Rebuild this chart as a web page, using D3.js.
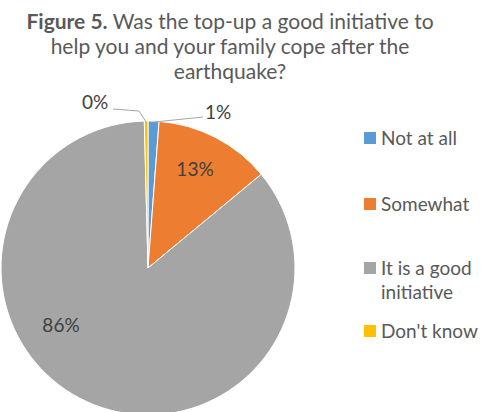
<!DOCTYPE html>
<html><head><meta charset="utf-8">
<script src="https://cdn.jsdelivr.net/npm/d3@7"></script>
<style>body{margin:0;background:#fff}svg{display:block}</style>
</head><body><svg id="c" width="486" height="412"></svg>
<script>
const categories = ["Not at all", "Somewhat", "It is a good initiative", "Don't know"];
const values = [1.2, 12.8, 85.6, 0.4];
const labels = ["1%", "13%", "86%", "0%"];
const colors = ["#5B9BD5", "#ED7D31", "#A5A5A5", "#FFC000"];

const svg = d3.select("#c");
const font = "Lato, 'Open Sans', sans-serif";
const cx = 148, cy = 268, R = 147;

// title
const t = svg.append("text").attr("text-anchor","middle").attr("font-family",font).attr("font-size",21).attr("fill","#595959");
const t1 = t.append("tspan").attr("x",230).attr("y",29);
t1.append("tspan").attr("font-weight","bold").text("Figure 5.");
t1.append("tspan").text(" Was the top-up a good initiative to");
t.append("tspan").attr("x",230).attr("y",54).text("help you and your family cope after the");
t.append("tspan").attr("x",230).attr("y",79).text("earthquake?");

const pie = d3.pie().sort(null).value(d=>d)(values);
const arc = d3.arc().innerRadius(0).outerRadius(R);
const g = svg.append("g").attr("transform",`translate(${cx},${cy})`);
g.selectAll("path").data(pie).join("path").attr("d",arc)
  .attr("fill",(d,i)=>colors[i]).attr("stroke","#fff").attr("stroke-width",1);

const lfs = 19;
[1,2].forEach(i=>{
  const [x,y] = i===1 ? [195-cx,171-cy] : [61-cx,327-cy];
  g.append("text").attr("x",x).attr("y",y).attr("text-anchor","middle").attr("dominant-baseline","middle")
   .attr("font-family",font).attr("font-size",lfs).attr("fill","#404040").text(labels[i]);
});
const outer = d3.arc().innerRadius(R).outerRadius(R);
const c0 = outer.centroid(pie[0]);
g.append("polyline").attr("points",[[c0[0],c0[1]+1],[203-cx,117-cy]].map(p=>p.join(",")).join(" "))
 .attr("fill","none").attr("stroke","#A6A6A6").attr("stroke-width",1);
g.append("text").attr("x",218-cx).attr("y",114-cy).attr("text-anchor","middle").attr("dominant-baseline","middle")
 .attr("font-family",font).attr("font-size",lfs).attr("fill","#404040").text(labels[0]);
const c3 = outer.centroid(pie[3]);
g.append("polyline").attr("points",[[113-cx,109-cy],[139-cx,111-cy],[c3[0],c3[1]+1]].map(p=>p.join(",")).join(" "))
 .attr("fill","none").attr("stroke","#A6A6A6").attr("stroke-width",1);
g.append("text").attr("x",95-cx).attr("y",104-cy).attr("text-anchor","middle").attr("dominant-baseline","middle")
 .attr("font-family",font).attr("font-size",lfs).attr("fill","#404040").text(labels[3]);

// legend
const ly = [138, 204, 268, 331];
const leg = svg.append("g");
categories.forEach((c,i)=>{
  leg.append("rect").attr("x",364).attr("y",ly[i]-6).attr("width",12).attr("height",12).attr("fill",colors[i]);
  const tx = leg.append("text").attr("font-family",font).attr("font-size",19).attr("fill","#595959");
  if (i===2) {
    tx.append("tspan").attr("x",381).attr("y",ly[i]+7).text("It is a good");
    tx.append("tspan").attr("x",381).attr("y",ly[i]+31).text("initiative");
  } else {
    tx.append("tspan").attr("x",381).attr("y",ly[i]+7).text(c);
  }
});
</script></body></html>
